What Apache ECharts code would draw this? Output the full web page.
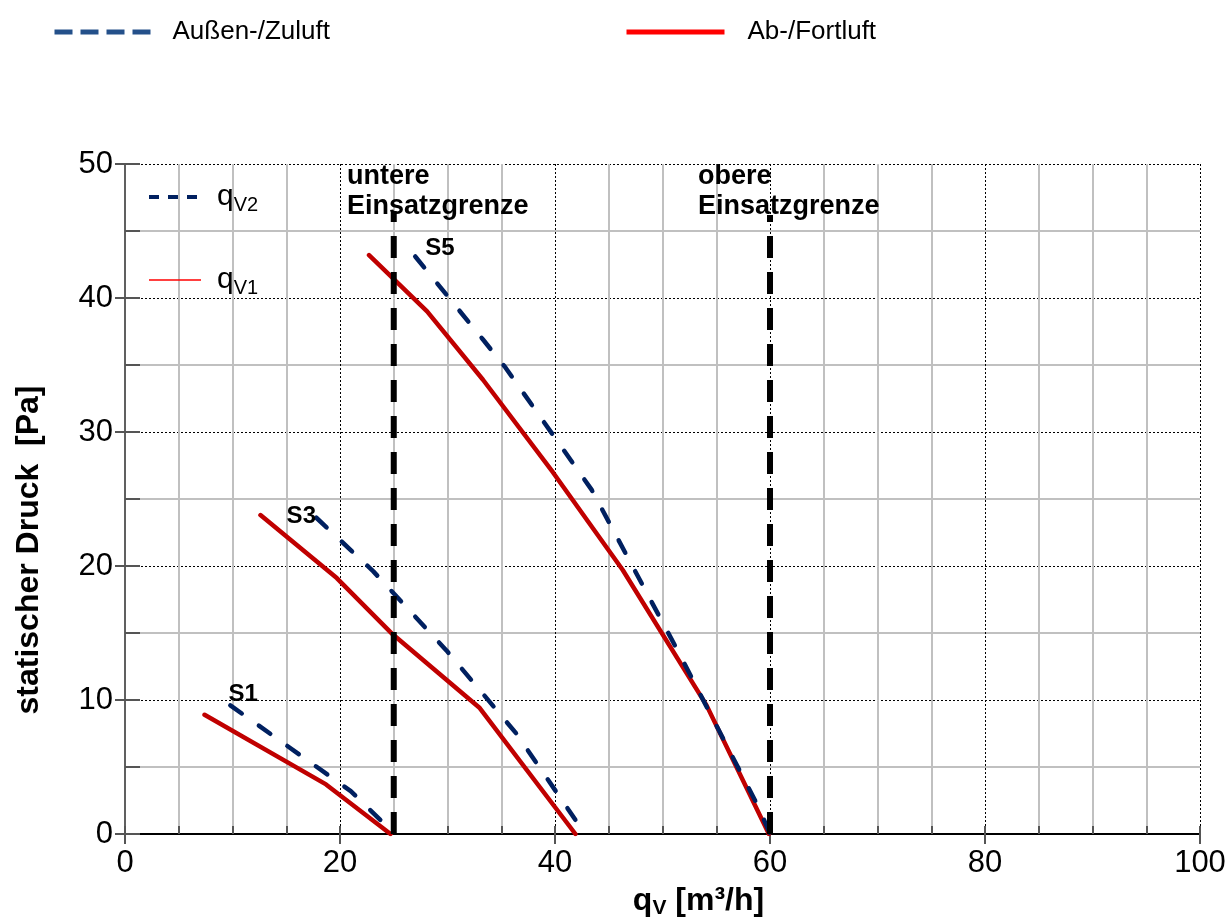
<!DOCTYPE html>
<html><head><meta charset="utf-8">
<script src="https://cdn.jsdelivr.net/npm/echarts@6/dist/echarts.min.js"></script>
<style>html,body{margin:0;padding:0;background:#fff}#c{width:1229px;height:920px}</style>
</head><body><div id="c"></div>
<script>
// ---- data (x = q_V [m³/h], y = static pressure [Pa]) ----
const s1Fortluft = [[7.4,8.9],[18.7,3.7],[24.7,0]];
const s1Zuluft   = [[9.8,9.6],[21.0,3.2],[25.1,0]];
const s3Fortluft = [[12.6,23.8],[19.7,19.1],[24.9,14.9],[33.0,9.4],[41.9,0]];
const s3Zuluft   = [[17.8,23.6],[23.1,19.6],[29.9,13.7],[36.4,7.5],[42.8,0]];
const s5Fortluft = [[22.7,43.2],[28.1,39.0],[33.3,33.9],[39.8,27.0],[46.3,19.7],[54.1,9.6],[59.9,0]];
const s5Zuluft   = [[27.0,43.1],[33.3,36.9],[35.4,34.8],[43.4,25.7],[51.4,13.7],[59.0,1.9],[60,0]];
const limitLower = [[25,0],[25,46.5]];
const limitUpper = [[60,0],[60,46.2]];
const stageLabels = [[11.0,10.45,'S1'],[16.4,23.7,'S3'],[29.3,43.7,'S5']];
const limitLabels = [[20.65,50,'untere\nEinsatzgrenze'],[53.3,50,'obere\nEinsatzgrenze']];
const legendTop = ['Außen-/Zuluft','Ab-/Fortluft'];
const legendInner = ['qV2','qV1'];

const FONT = 'Liberation Sans, Arial, sans-serif';
const RED = '#C00000', NAVY = '#002060';
const chart = echarts.init(document.getElementById('c'), null, {renderer:'canvas'});

function curve(name, data, color, dashed){
  return {name, type:'line', data, symbol:'none', showSymbol:false, silent:true,
    lineStyle:{color, width:4.5, type: dashed ? [14,21] : 'solid', cap:'round', join:'round'},
    itemStyle:{color}, z:3};
}
function dummy(name, color, width, type){
  return {name, type:'line', data:[], symbol:'none', lineStyle:{color, width, type}, itemStyle:{color}};
}
const subRich = {
  q:{fontFamily:FONT, fontSize:30, color:'#000', padding:[0,0,0,11]},
  s:{fontFamily:FONT, fontSize:20, color:'#000', padding:[16,0,0,0]}
};

const option = {
  animation:false,
  backgroundColor:'#fff',
  textStyle:{fontFamily:FONT},
  grid:{left:125, right:29, top:164, bottom:86, containLabel:false, outerBoundsMode:'none'},
  legend:[
    {data:[{name:legendTop[0], lineStyle:{width:5, type:[18,8], color:'#24508a', cap:'butt'}}],
     left:52, top:19, padding:0, itemWidth:96, itemHeight:14, selectedMode:false,
     itemStyle:{color:'rgba(0,0,0,0)', borderWidth:0},
     textStyle:{fontFamily:FONT, fontSize:26, color:'#000', padding:[0,0,0,17]}},
    {data:[{name:legendTop[1], lineStyle:{width:5, type:'solid', color:'#ff0000'}}],
     left:624, top:19, padding:0, itemWidth:98, itemHeight:14, selectedMode:false,
     itemStyle:{color:'rgba(0,0,0,0)', borderWidth:0},
     textStyle:{fontFamily:FONT, fontSize:26, color:'#000', padding:[0,0,0,18]}},
    {data:[{name:legendInner[0], lineStyle:{width:4, type:[10,9], color:NAVY}},
           {name:legendInner[1], lineStyle:{width:1.5, type:'solid', color:'#ff0000'}}],
     orient:'vertical', left:147, top:182, padding:0, itemWidth:52, itemHeight:14, itemGap:50, selectedMode:false,
     itemStyle:{color:'rgba(0,0,0,0)', borderWidth:0},
     formatter: n => '{q|q}{s|' + n.slice(1) + '}',
     textStyle:{fontFamily:FONT, fontSize:30, color:'#000', rich:subRich}}
  ],
  xAxis:[
    {type:'value', min:0, max:100, interval:20, position:'bottom',
     axisLine:{show:true, onZero:false, lineStyle:{color:'#000', width:2}},
     axisTick:{show:true, length:10, lineStyle:{color:'#555', width:2}},
     axisLabel:{fontFamily:FONT, fontSize:31, color:'#000', margin:14},
     splitLine:{show:true, lineStyle:{color:'#000', width:1, type:[2,2]}},
     minorTick:{show:false, splitNumber:4},
     minorSplitLine:{show:true, lineStyle:{color:'#c0c0c0', width:2}},
     name:'{b|q}{s|V}{b| [m³/h]}', nameLocation:'middle', nameGap:50,
     nameTextStyle:{padding:[0,0,0,72],
       rich:{b:{fontFamily:FONT, fontSize:32, fontWeight:'bold', color:'#000'},
             s:{fontFamily:FONT, fontSize:21, fontWeight:'bold', color:'#000', padding:[14,0,0,0]}}}},
    {type:'value', min:0, max:100, interval:5, position:'bottom',
     axisLine:{show:false}, axisLabel:{show:false}, splitLine:{show:false},
     axisTick:{show:true, inside:true, length:8, lineStyle:{color:'#555', width:2}}}
  ],
  yAxis:[
    {type:'value', min:0, max:50, interval:10, position:'left',
     axisLine:{show:true, onZero:false, lineStyle:{color:'#606060', width:2}},
     axisTick:{show:true, length:10, lineStyle:{color:'#555', width:2}},
     axisLabel:{fontFamily:FONT, fontSize:31, color:'#000', margin:12},
     splitLine:{show:true, lineStyle:{color:'#000', width:1, type:[2,2]}},
     minorTick:{show:false, splitNumber:2},
     minorSplitLine:{show:true, lineStyle:{color:'#c0c0c0', width:2}},
     name:'statischer Druck  [Pa]', nameLocation:'middle', nameGap:80, nameRotate:90,
     nameTextStyle:{fontFamily:FONT, fontSize:32, fontWeight:'bold', color:'#000', padding:[0,102,0,0]}},
    {type:'value', min:0, max:50, interval:5, position:'left',
     axisLine:{show:false}, axisLabel:{show:false}, splitLine:{show:false},
     axisTick:{show:true, inside:true, length:15, lineStyle:{color:'#555', width:2}}}
  ],
  series:[
    dummy(legendTop[0], '#24508a', 5, [18,8]),
    dummy(legendTop[1], '#ff0000', 5, 'solid'),
    dummy(legendInner[0], NAVY, 4, [10,9]),
    dummy(legendInner[1], '#ff0000', 1.5, 'solid'),
    curve('S1 Fortluft', s1Fortluft, RED, false),
    curve('S1 Zuluft', s1Zuluft, NAVY, true),
    curve('S3 Fortluft', s3Fortluft, RED, false),
    curve('S3 Zuluft', s3Zuluft, NAVY, true),
    curve('S5 Fortluft', s5Fortluft, RED, false),
    curve('S5 Zuluft', s5Zuluft, NAVY, true),
    {name:'untere Einsatzgrenze', type:'line', data:limitLower, symbol:'none', silent:true, z:4,
     lineStyle:{color:'#000', width:6, type:[22,14], cap:'butt'}},
    {name:'obere Einsatzgrenze', type:'line', data:limitUpper, symbol:'none', silent:true, z:4,
     lineStyle:{color:'#000', width:6, type:[22,14], cap:'butt'}},
    {name:'Stufen', type:'scatter', data:stageLabels, symbolSize:0.1, clip:false, silent:true, z:5,
     itemStyle:{color:'rgba(0,0,0,0)', opacity:1},
     label:{show:true, position:'inside', formatter:p=>p.data[2], fontFamily:FONT, fontSize:24,
            fontWeight:'bold', color:'#000', opacity:1, textBorderWidth:0}},
    {name:'Grenzen', type:'scatter', data:limitLabels, symbolSize:0.1, clip:false, silent:true, z:5,
     itemStyle:{color:'rgba(0,0,0,0)', opacity:1},
     label:{show:true, position:[0,-2], align:'left', verticalAlign:'top', formatter:p=>p.data[2],
            fontFamily:FONT, fontSize:27, fontWeight:'bold', color:'#000', lineHeight:30, opacity:1}}
  ]
};
chart.setOption(option);
</script></body></html>
